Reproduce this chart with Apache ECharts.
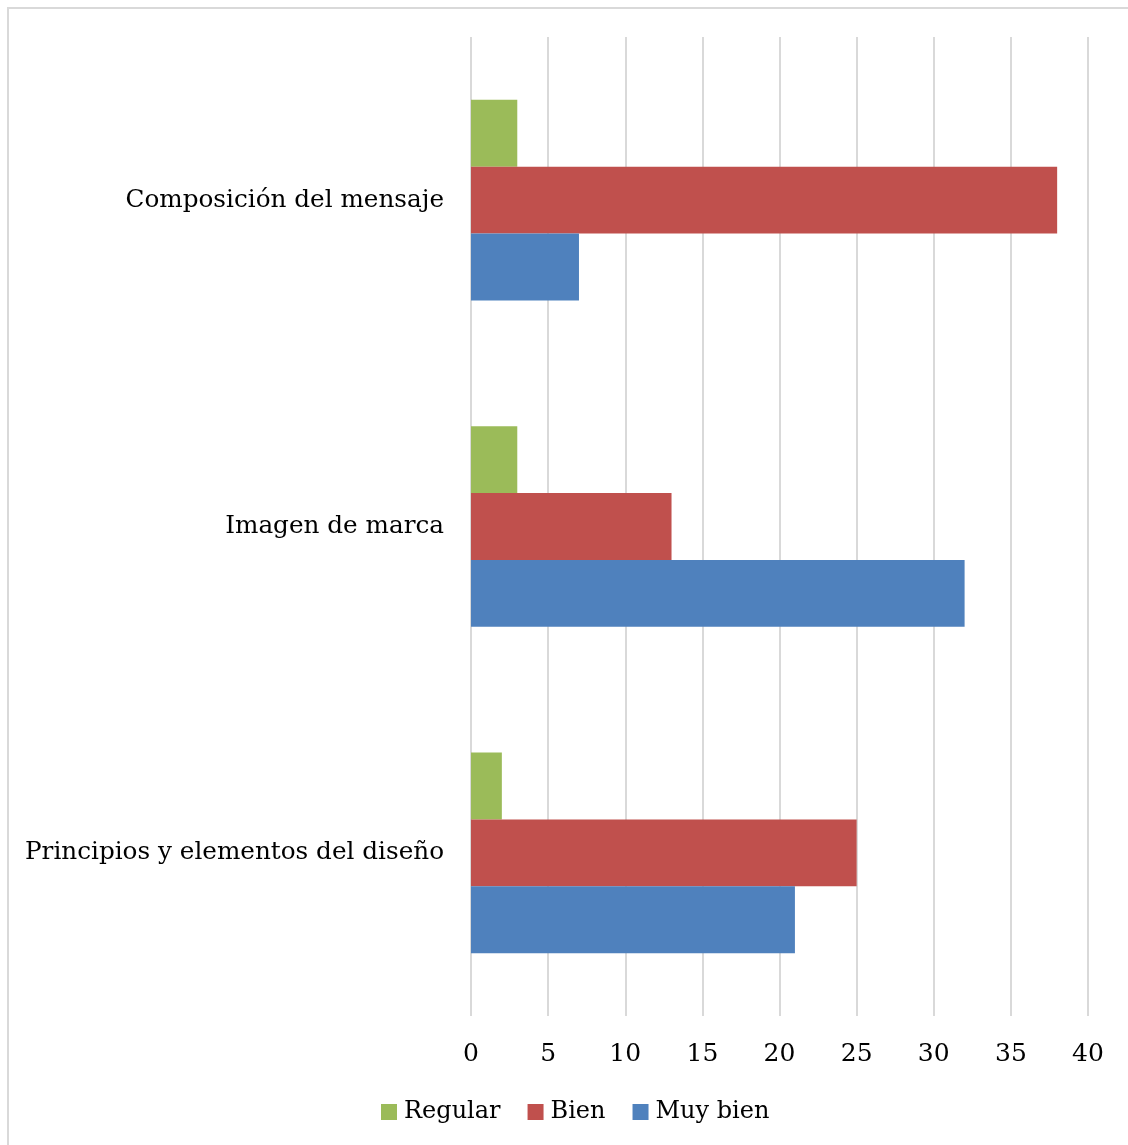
<!DOCTYPE html>
<html>
<head>
<meta charset="utf-8">
<script src="https://cdn.jsdelivr.net/npm/echarts@6/dist/echarts.min.js"></script>
<style>
  html, body { margin: 0; padding: 0; background: #fff; }
  #chart { width: 1128px; height: 1145px; }
</style>
</head>
<body>
<div id="chart"></div>
<script>
// Categories listed bottom to top along the vertical axis
const categories = ['Principios y elementos del diseño', 'Imagen de marca', 'Composición del mensaje'];
const regular = [2, 3, 3];
const bien = [25, 13, 38];
const muyBien = [21, 32, 7];
const xTicks = { min: 0, max: 40, interval: 5 };

const FONT = 'DejaVu Serif';
const chart = echarts.init(document.getElementById('chart'));

chart.setOption({
  animation: false,
  backgroundColor: '#ffffff',
  graphic: [{
    type: 'rect',
    shape: { x: 8, y: 8, width: 1200, height: 1200 },
    style: { fill: 'none', stroke: '#d9d9d9', lineWidth: 2 },
    silent: true
  }],
  grid: { left: 471, right: 40, top: 37, bottom: 129 },
  legend: {
    data: ['Regular', 'Bien', 'Muy bien'],
    bottom: 16,
    left: 376,
    itemWidth: 16,
    itemHeight: 16,
    itemGap: 27,
    icon: 'rect',
    textStyle: { fontFamily: FONT, fontSize: 24, color: '#000', padding: [0, 0, 0, 2] }
  },
  xAxis: {
    type: 'value',
    min: xTicks.min,
    max: xTicks.max,
    interval: xTicks.interval,
    axisLine: { show: false },
    axisTick: { show: false },
    splitLine: { show: true, lineStyle: { color: '#d9d9d9', width: 2 } },
    axisLabel: { fontFamily: FONT, fontSize: 25, color: '#000', margin: 26 }
  },
  yAxis: {
    type: 'category',
    data: categories,
    axisLine: { show: false },
    axisTick: { show: false },
    splitLine: { show: false },
    axisLabel: { fontFamily: FONT, fontSize: 24.7, color: '#000', margin: 27, padding: [6, 0, 0, 0] }
  },
  series: [
    { name: 'Regular', type: 'bar', data: regular, itemStyle: { color: '#9BBB59' },
      barGap: '0%', barCategoryGap: '38.5%' },
    { name: 'Bien', type: 'bar', data: bien, itemStyle: { color: '#C0504D' },
      barGap: '0%', barCategoryGap: '38.5%' },
    { name: 'Muy bien', type: 'bar', data: muyBien, itemStyle: { color: '#4F81BD' },
      barGap: '0%', barCategoryGap: '38.5%' }
  ]
});
</script>
</body>
</html>
